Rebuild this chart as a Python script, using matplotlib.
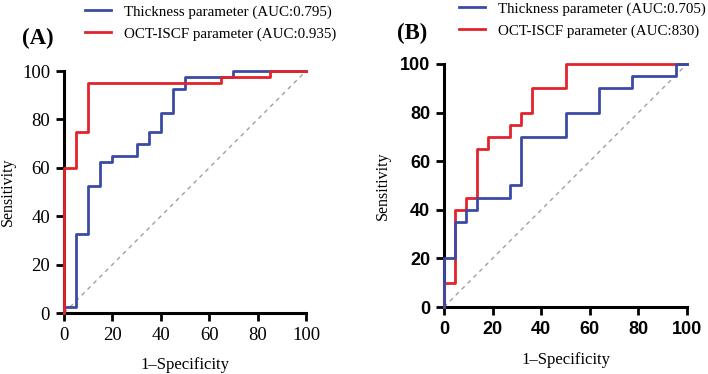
import matplotlib
matplotlib.use('Agg')
import matplotlib.pyplot as plt
from matplotlib.lines import Line2D

# %% ROC data (1-specificity %, sensitivity %)

a_thick_fpr = [0, 0, 5, 5, 10, 10, 15, 15, 20, 20, 30, 30, 35, 35, 40, 40, 45, 45, 50, 50, 70, 70, 100]
a_thick_tpr = [0, 2.5, 2.5, 32.5, 32.5, 52.5, 52.5, 62.5, 62.5, 65, 65, 70, 70, 75, 75, 82.5, 82.5, 92.5, 92.5, 97.5, 97.5, 100, 100]
a_oct_fpr = [0, 0, 5, 5, 10, 10, 65, 65, 85, 85, 100]
a_oct_tpr = [0, 60, 60, 75, 75, 95, 95, 97.5, 97.5, 100, 100]

b_thick_fpr = [0, 0, 4.55, 4.55, 9.09, 9.09, 13.64, 13.64, 27.27, 27.27, 31.82, 31.82, 50, 50, 63.64, 63.64, 77.27, 77.27, 95.45, 95.45, 100]
b_thick_tpr = [0, 20, 20, 35, 35, 40, 40, 45, 45, 50, 50, 70, 70, 80, 80, 90, 90, 95, 95, 100, 100]
b_oct_fpr = [0, 0, 4.55, 4.55, 9.09, 9.09, 13.64, 13.64, 18.18, 18.18, 27.27, 27.27, 31.82, 31.82, 36.36, 36.36, 50, 50, 100]
b_oct_tpr = [0, 10, 10, 40, 40, 45, 45, 65, 65, 70, 70, 75, 75, 80, 80, 90, 90, 100, 100]

a_labels = ['Thickness parameter (AUC:0.795)', 'OCT-ISCF parameter (AUC:0.935)']
b_labels = ['Thickness parameter (AUC:0.705)', 'OCT-ISCF parameter (AUC:830)']
ticks = [0, 20, 40, 60, 80, 100]

BLUE = '#3b4ba3'
RED = '#e3232c'
SERIF = 'Liberation Serif'
W, H = 708, 374

fig = plt.figure(figsize=(W / 100, H / 100), dpi=100)


def px_axes(left, top, right, bottom):
    return fig.add_axes([left / W, 1 - bottom / H, (right - left) / W, (bottom - top) / H])


def style(ax, tick_font, ylab_x, xlab_y):
    ax.set_xlim(0, 100)
    ax.set_ylim(0, 100)
    ax.set_xticks(ticks)
    ax.set_yticks(ticks)
    for s in ['top', 'right']:
        ax.spines[s].set_visible(False)
    for s in ['left', 'bottom']:
        ax.spines[s].set_linewidth(2.2)
        ax.spines[s].set_color('black')
    ax.tick_params(length=6, width=2, direction='out', pad=4)
    for lab in ax.get_xticklabels() + ax.get_yticklabels():
        lab.set_fontproperties(tick_font)
    ax.plot([0, 100], [0, 100], ls=(0, (3, 3)), color='#a0a0a0', lw=1, zorder=1)
    ax.set_xlabel('1\u2013Specificity', family=SERIF, fontsize=12)
    ax.set_ylabel('Sensitivity', family=SERIF, fontsize=11.5)
    ax.yaxis.set_label_coords(ylab_x, 0.5)
    ax.xaxis.set_label_coords(0.5, xlab_y)


# %% Panel A
ax1 = px_axes(64, 71, 306, 313)
style(ax1, {'family': SERIF, 'size': 13.5}, -0.2, -0.18)
ax1.plot(a_thick_fpr, a_thick_tpr, color=BLUE, lw=2, clip_on=False, zorder=3)
ax1.plot(a_oct_fpr, a_oct_tpr, color=RED, lw=2, clip_on=False, zorder=4)
fig.text(22 / W, 1 - 38 / H, '(A)', family=SERIF, fontsize=16.5, fontweight='bold', va='center')

# %% Panel B
ax2 = px_axes(444, 64, 687, 307)
style(ax2, {'family': 'Liberation Sans', 'size': 13, 'weight': 'bold'}, -0.218, -0.185)
ax2.plot(b_oct_fpr, b_oct_tpr, color=RED, lw=2, clip_on=False, zorder=3)
ax2.plot(b_thick_fpr, b_thick_tpr, color=BLUE, lw=2, clip_on=False, zorder=4)
fig.text(397 / W, 1 - 33 / H, '(B)', family=SERIF, fontsize=16.5, fontweight='bold', va='center')

# %% Legends
handles = [Line2D([], [], color=BLUE, lw=2), Line2D([], [], color=RED, lw=2)]
for labels, x0, y0 in [(a_labels, 85, 5), (b_labels, 459, 2)]:
    fig.legend(handles, labels, loc='upper left', bbox_to_anchor=(x0 / W, 1 - y0 / H),
               frameon=False, prop={'family': SERIF, 'size': 10.8},
               handlelength=1.75, handletextpad=0.85, labelspacing=0.55,
               borderaxespad=0, borderpad=0)

fig.savefig('out.png', dpi=100)
